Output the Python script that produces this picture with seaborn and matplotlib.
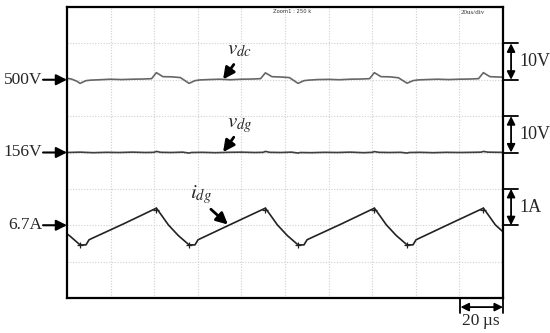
import matplotlib
matplotlib.use("Agg")
import matplotlib.pyplot as plt
import seaborn as sns
import pandas as pd
import numpy as np

# ---------------- data ----------------
# time axis in microseconds (20 us/div, 10 divisions)
vdc_t = [0, 2, 4.5, 6, 8.7, 11, 15, 20, 25, 30, 35, 38.8, 41, 44, 48, 52, 56, 58.7, 61,
         65, 70, 75, 80, 85, 88.8, 91, 94, 98, 102, 106, 108.7, 111, 115, 120, 125, 130,
         135, 138.8, 141, 144, 148, 152, 156, 158.7, 161, 165, 170, 175, 180, 185, 188.8,
         191, 194, 198, 200]
vdc_v = [500.4, 500.2, 499.6, 499.0, 499.75, 499.9, 500.0, 500.15, 500.05, 500.15, 500.2,
         500.3, 501.95, 500.85, 500.8, 500.6, 499.0, 499.75, 499.95, 500.05, 500.15, 500.0,
         500.15, 500.2, 500.3, 501.9, 500.85, 500.75, 500.6, 499.0, 499.75, 499.9, 500.05,
         500.1, 500.0, 500.15, 500.2, 500.3, 501.95, 500.85, 500.8, 500.55, 499.05, 499.75,
         499.95, 500.05, 500.15, 500.05, 500.15, 500.2, 500.3, 501.95, 500.85, 500.75, 500.7]

vdg_t = [0, 6, 12, 18, 24, 30, 36, 40, 41, 43, 48, 53, 56, 57, 62, 68, 74, 80, 86, 90, 91,
         93, 98, 103, 106, 107, 112, 118, 124, 130, 136, 140, 141, 143, 148, 153, 156, 157,
         162, 168, 174, 180, 186, 190, 191, 193, 198, 200]
vdg_v = [156.0, 156.1, 155.95, 156.05, 156.0, 156.1, 156.0, 156.05, 156.3, 156.05, 156.0,
         156.1, 155.85, 156.0, 156.05, 155.95, 156.05, 156.1, 156.0, 156.05, 156.3, 156.05,
         156.0, 156.1, 155.85, 156.0, 155.95, 156.05, 156.0, 156.1, 155.95, 156.05, 156.25,
         156.05, 156.0, 156.05, 155.85, 156.0, 156.05, 155.95, 156.05, 156.0, 156.05,
         156.1, 156.3, 156.1, 156.05, 156.05]

idg_t = [0, 1, 6, 8.7, 10.1, 11.5, 26, 41, 43.3, 46.5, 51, 56, 58.7, 60.1, 61.5, 76, 91,
         93.3, 96.5, 101, 106, 108.7, 110.1, 111.5, 126, 141, 143.3, 146.5, 151, 156, 158.7,
         160.1, 161.5, 176, 191, 193.3, 196.5, 200]
idg_a = [6.46, 6.42, 6.16, 6.16, 6.30, 6.34, 6.74, 7.17, 6.98, 6.71, 6.42, 6.16, 6.16,
         6.30, 6.34, 6.75, 7.17, 6.98, 6.71, 6.42, 6.16, 6.16, 6.30, 6.34, 6.74, 7.17,
         6.98, 6.71, 6.42, 6.16, 6.16, 6.30, 6.34, 6.75, 7.17, 6.98, 6.71, 6.52]

trough_t = [6, 56, 106, 156]
trough_a = [6.16, 6.16, 6.16, 6.16]
peak_t = [41, 91, 141, 191]
peak_a = [7.12, 7.12, 7.12, 7.12]

# channel settings: (reference level, scale per division, screen position in div)
VDC_REF, VDC_SCALE, VDC_POS = 500.0, 10.0, 6
VDG_REF, VDG_SCALE, VDG_POS = 156.0, 10.0, 4
IDG_REF, IDG_SCALE, IDG_POS = 6.7, 1.0, 2

level_labels = ["500V", "156V", "6.7A"]
scale_labels = ["10V", "10V", "1A"]

# ---------------- build long table in screen divisions ----------------
def to_div(vals, ref, scale, pos):
    return [pos + (v - ref) / scale for v in vals]

df = pd.concat([
    pd.DataFrame({"t": vdc_t, "y": to_div(vdc_v, VDC_REF, VDC_SCALE, VDC_POS), "sig": "vdc"}),
    pd.DataFrame({"t": vdg_t, "y": to_div(vdg_v, VDG_REF, VDG_SCALE, VDG_POS), "sig": "vdg"}),
    pd.DataFrame({"t": idg_t, "y": to_div(idg_a, IDG_REF, IDG_SCALE, IDG_POS), "sig": "idg"}),
], ignore_index=True)

sns.set_theme(style="white")
plt.rcParams["font.family"] = ["Liberation Serif", "DejaVu Serif"]
plt.rcParams["mathtext.fontset"] = "stix"

fig = plt.figure(figsize=(5.5, 3.33), dpi=100)
ax = fig.add_axes([67 / 550, 35 / 333, 436 / 550, 291 / 333])

sns.lineplot(data=df, x="t", y="y", hue="sig", estimator=None, sort=False,
             palette={"vdc": "#666666", "vdg": "#3f3f3f", "idg": "#222222"},
             linewidth=1.2, legend=False, ax=ax)
# small cursor marks on the current trace
ax.scatter(trough_t, to_div(trough_a, IDG_REF, IDG_SCALE, IDG_POS), marker="+",
           s=22, color="#222222", linewidths=0.9, zorder=3)
ax.scatter(peak_t, to_div(peak_a, IDG_REF, IDG_SCALE, IDG_POS), marker="+",
           s=18, color="#222222", linewidths=0.9, zorder=3)

ax.set_xlim(0, 200)
ax.set_ylim(0, 8)
ax.set_xticks(np.arange(0, 201, 20))
ax.set_yticks(np.arange(0, 9, 1))
ax.set_xticklabels([])
ax.set_yticklabels([])
ax.tick_params(length=0)
ax.set_xlabel("")
ax.set_ylabel("")
ax.grid(True, color="#cfcfcf", linestyle=(0, (1, 1.5)), linewidth=0.8)
for s in ax.spines.values():
    s.set_color("black")
    s.set_linewidth(1.6)
    s.set_visible(True)

# ---------------- left level markers ----------------
positions = [VDC_POS, VDG_POS, IDG_POS]
for lab, yp in zip(level_labels, positions):
    ax.annotate("", xy=(0, yp), xytext=(-11, yp), annotation_clip=False,
                arrowprops=dict(arrowstyle="-|>", color="black", lw=1.5,
                                mutation_scale=16, shrinkA=0, shrinkB=0))
    ax.text(-11.5, yp, lab, ha="right", va="center", fontsize=12.5, clip_on=False)

# ---------------- right scale markers ----------------
for lab, yp in zip(scale_labels, positions):
    for yy in (yp, yp + 1):
        ax.plot([200, 207], [yy, yy], color="black", lw=1.3, clip_on=False)
    ax.annotate("", xy=(203.7, yp), xytext=(203.7, yp + 1), annotation_clip=False,
                arrowprops=dict(arrowstyle="<|-|>", color="black", lw=1.3,
                                mutation_scale=12, shrinkA=0, shrinkB=0))
    ax.text(207.6, yp + 0.5, lab, ha="left", va="center", fontsize=13, clip_on=False)

# ---------------- time scale marker ----------------
for xx in (180.5, 200):
    ax.plot([xx, xx], [0, -0.42], color="black", lw=1.3, clip_on=False)
ax.annotate("", xy=(180.5, -0.25), xytext=(200, -0.25), annotation_clip=False,
            arrowprops=dict(arrowstyle="<|-|>", color="black", lw=1.3,
                            mutation_scale=12, shrinkA=0, shrinkB=0))
ax.text(190, -0.62, "20\u2009\u00b5s", ha="center", va="center", fontsize=12.5, clip_on=False)

# ---------------- screen header text ----------------
ax.text(94.5, 7.88, "Zoom1 : 250 k", fontsize=3.8, family="DejaVu Sans",
        color="#333333", ha="left", va="center")
ax.text(180.7, 7.84, "20us/div", fontsize=5, color="#333333", ha="left", va="center")

# ---------------- trace labels ----------------
ax.text(73.5, 6.70, r"$v_{dc}$", fontsize=15, ha="left", va="baseline")
ax.annotate("", xy=(71.6, 6.01), xytext=(76.5, 6.42),
            arrowprops=dict(arrowstyle="-|>", color="black", lw=2.0,
                            mutation_scale=17, shrinkA=0, shrinkB=0))
ax.text(73.5, 4.70, r"$v_{dg}$", fontsize=15, ha="left", va="baseline")
ax.annotate("", xy=(71.6, 4.01), xytext=(76.5, 4.42),
            arrowprops=dict(arrowstyle="-|>", color="black", lw=2.0,
                            mutation_scale=17, shrinkA=0, shrinkB=0))
ax.text(56.5, 2.75, r"$i_{dg}$", fontsize=15, ha="left", va="baseline")
ax.annotate("", xy=(73.8, 2.02), xytext=(66.0, 2.44),
            arrowprops=dict(arrowstyle="-|>", color="black", lw=2.0,
                            mutation_scale=17, shrinkA=0, shrinkB=0))

fig.savefig("out.png", dpi=100)
